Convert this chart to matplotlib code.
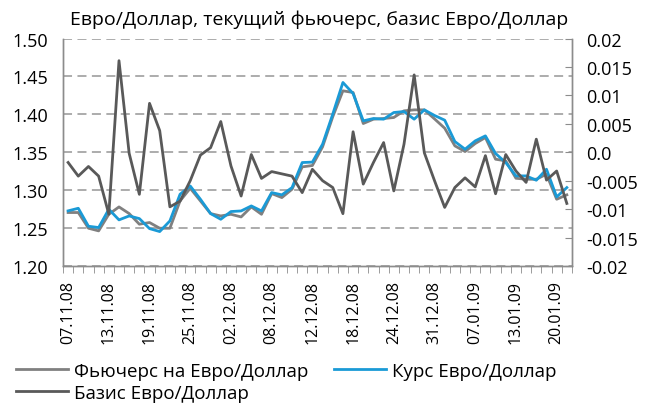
import matplotlib
matplotlib.use("Agg")
import matplotlib.pyplot as plt
from matplotlib.ticker import MultipleLocator, FixedLocator, FuncFormatter

# Торговые дни 07.11.08 - 21.01.09
dates = ["07.11.08", "10.11.08", "11.11.08", "12.11.08", "13.11.08", "14.11.08",
         "17.11.08", "18.11.08", "19.11.08", "20.11.08", "21.11.08", "24.11.08",
         "25.11.08", "26.11.08", "28.11.08", "01.12.08", "02.12.08", "03.12.08",
         "04.12.08", "05.12.08", "08.12.08", "09.12.08", "10.12.08", "11.12.08",
         "12.12.08", "15.12.08", "16.12.08", "17.12.08", "18.12.08", "19.12.08",
         "22.12.08", "23.12.08", "24.12.08", "26.12.08", "29.12.08", "30.12.08",
         "31.12.08", "02.01.09", "05.01.09", "06.01.09", "07.01.09", "08.01.09",
         "09.01.09", "12.01.09", "13.01.09", "14.01.09", "15.01.09", "16.01.09",
         "20.01.09", "21.01.09"]

futures = [1.2705, 1.2705, 1.2498, 1.2463, 1.2682, 1.2779, 1.2691, 1.2551,
           1.2573, 1.2498, 1.2498, 1.2858, 1.3025, 1.2858, 1.2691, 1.2660,
           1.2682, 1.2647, 1.2779, 1.2682, 1.2955, 1.2902, 1.3012, 1.3307,
           1.3325, 1.3571, 1.3967, 1.4310, 1.4288, 1.3879, 1.3936, 1.3945,
           1.3958, 1.4046, 1.4059, 1.4059, 1.3940, 1.3817, 1.3584, 1.3509,
           1.3615, 1.3694, 1.3408, 1.3386, 1.3157, 1.3144, 1.3144, 1.3210,
           1.2880, 1.2938]

spot = [1.2727, 1.2761, 1.2524, 1.2507, 1.2748, 1.2608, 1.2660, 1.2625,
        1.2493, 1.2454, 1.2594, 1.2946, 1.3055, 1.2880, 1.2691, 1.2616,
        1.2718, 1.2726, 1.2792, 1.2726, 1.2968, 1.2938, 1.3034, 1.3364,
        1.3370, 1.3606, 1.4002, 1.4420, 1.4274, 1.3914, 1.3945, 1.3936,
        1.4024, 1.4037, 1.3936, 1.4059, 1.3985, 1.3923, 1.3641, 1.3540,
        1.3650, 1.3716, 1.3483, 1.3364, 1.3188, 1.3188, 1.3131, 1.3276,
        1.2911, 1.3034]

basis = [-0.0018, -0.0042, -0.0025, -0.0042, -0.0109, 0.0161, -0.0002, -0.0074,
         0.0086, 0.0038, -0.0096, -0.0086, -0.0050, -0.0005, 0.0008, 0.0054,
         -0.0024, -0.0077, -0.0004, -0.0046, -0.0034, -0.0038, -0.0042, -0.0071,
         -0.0030, -0.0050, -0.0062, -0.0108, 0.0036, -0.0056, -0.0018, 0.0017,
         -0.0068, 0.0014, 0.0136, -0.0001, -0.0050, -0.0097, -0.0062, -0.0045,
         -0.0061, -0.0006, -0.0073, -0.0004, -0.0033, -0.0053, 0.0023, -0.0049,
         -0.0033, -0.0090]

c_fut = "#808080"
c_spot = "#1a9ad6"
c_basis = "#595959"
axis_c = "#8c8c8c"

plt.rcParams["font.family"] = ["Open Sans", "DejaVu Sans"]

fig = plt.figure(figsize=(6.45, 4.06), dpi=100)
ax = fig.add_axes([0.0977, 0.3424, 0.789, 0.5603])
ax2 = ax.twinx()

x = list(range(len(dates)))
l_fut, = ax.plot(x, futures, color=c_fut, lw=2.0, zorder=3)
l_spot, = ax.plot(x, spot, color=c_spot, lw=2.0, zorder=4)
l_basis, = ax2.plot(x, basis, color=c_basis, lw=2.0, zorder=3)

ax.set_xlim(-0.5, len(dates) - 0.5)
ax.set_ylim(1.20, 1.50)
ax2.set_ylim(-0.02, 0.02)

# левая шкала и сетка
ax.yaxis.set_major_locator(MultipleLocator(0.05))
ax.yaxis.set_major_formatter(FuncFormatter(lambda v, p: f"{v:.2f}"))
ax.grid(axis="y", color="#a6a6a6", linestyle=(0, (5, 3)), lw=1.3)
ax.set_axisbelow(True)
ax.tick_params(axis="y", length=0, labelsize=13, pad=11)

# правая шкала
ax2.yaxis.set_major_locator(MultipleLocator(0.005))
ax2.yaxis.set_major_formatter(FuncFormatter(
    lambda v, p: "0.0" if abs(v) < 1e-9 else f"{v:g}"))
ax2.tick_params(axis="y", direction="in", length=5, color=axis_c,
                labelsize=13, pad=10)

# ось категорий: деления на границах, подписи каждый 4-й день
ax.set_xticks(x[::4])
ax.set_xticklabels(dates[::4], rotation=90, fontsize=11.5)
ax.tick_params(axis="x", length=0, pad=10)
ax.xaxis.set_minor_locator(FixedLocator([i - 0.5 for i in range(len(dates) + 1)]))
ax.tick_params(axis="x", which="minor", length=5, color=axis_c, direction="out")

for a in (ax, ax2):
    a.spines["top"].set_visible(False)
    for s in ("left", "right", "bottom"):
        a.spines[s].set_color(axis_c)
        a.spines[s].set_linewidth(1.0)

fig.text(0.494, 0.951, "Евро/Доллар, текущий фьючерс, базис Евро/Доллар",
         ha="center", va="center", fontsize=14)

fig.legend([l_fut, l_basis, l_spot],
           ["Фьючерс на Евро/Доллар", "Базис Евро/Доллар", "Курс Евро/Доллар"],
           ncol=2, loc="upper left", bbox_to_anchor=(0.025, 0.107),
           frameon=False, fontsize=13.5, handlelength=2.77, handletextpad=0.3,
           columnspacing=1.4, labelspacing=0.23, borderaxespad=0, borderpad=0)

fig.savefig("out.png", dpi=100)
